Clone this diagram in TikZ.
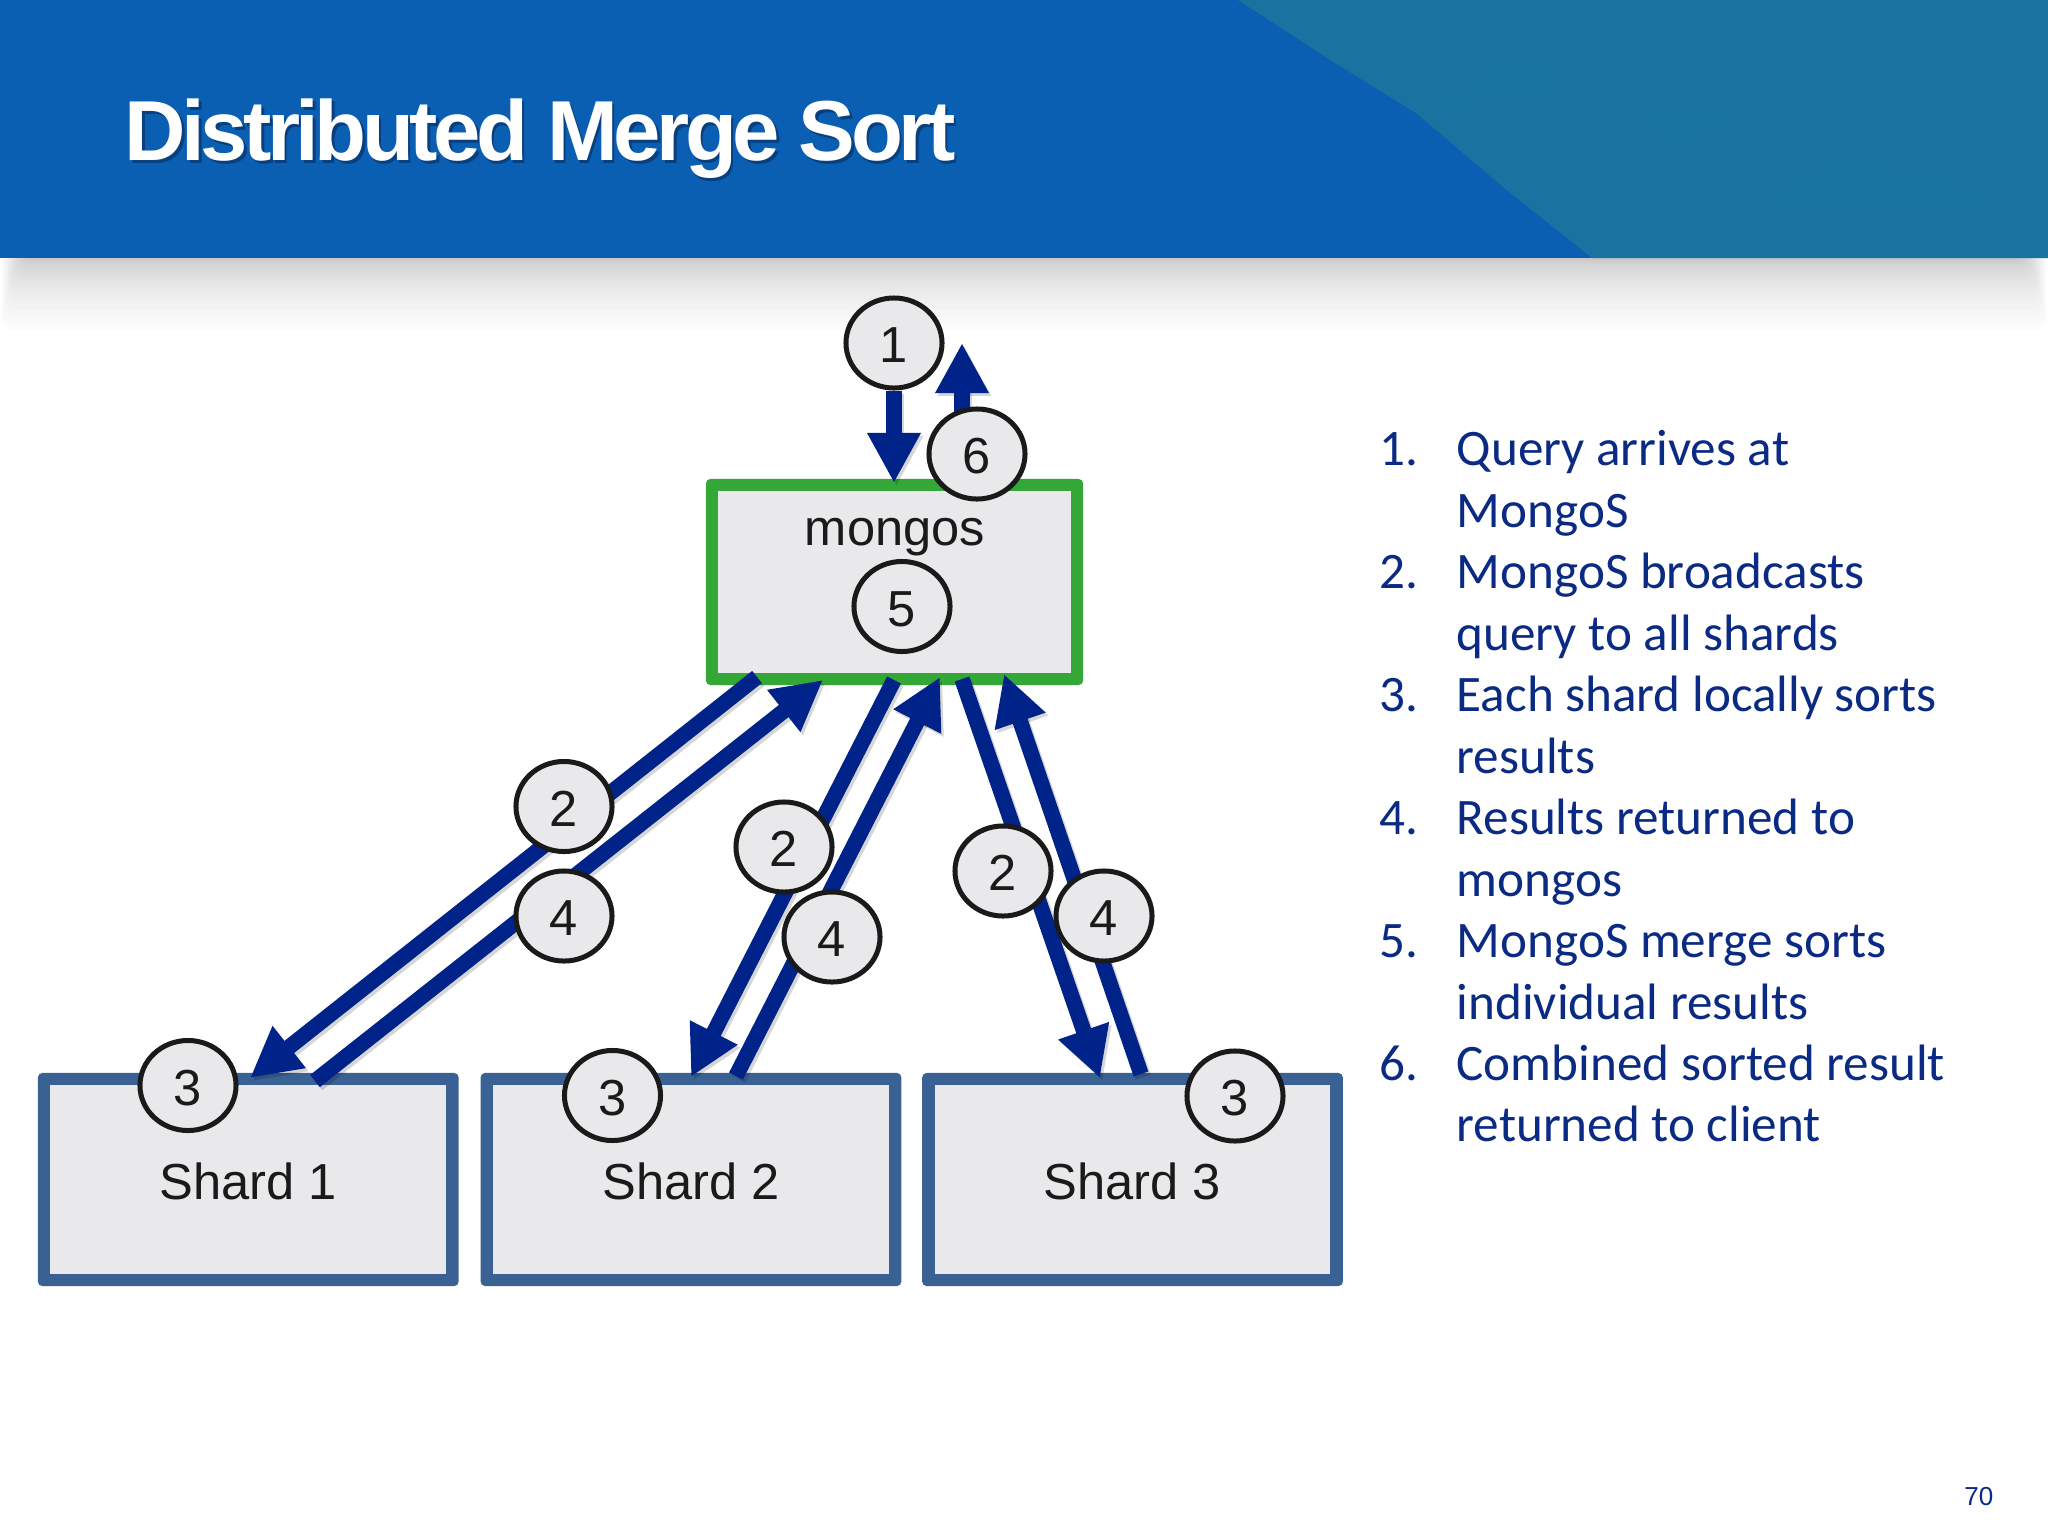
\documentclass[tikz,border=0pt]{standalone}
\usepackage{fontspec}
\setmainfont{Liberation Sans}
\newfontfamily\listfont{Carlito}
\newfontfamily\titlefont[LetterSpace=-5.35]{Liberation Sans Bold}
\usetikzlibrary{arrows.meta,shapes.geometric}
\definecolor{bannerblue}{HTML}{0B5FB2}
\definecolor{bannerteal}{HTML}{19729F}
\definecolor{tealpale}{HTML}{1A74A2}
\definecolor{titleshadow}{HTML}{083F7E}
\definecolor{arrowblue}{HTML}{00238A}
\definecolor{listblue}{HTML}{0A2A84}
\definecolor{boxfill}{HTML}{E9E9EB}
\definecolor{sharpedge}{HTML}{3A6193}
\definecolor{greenedge}{HTML}{34A836}
\definecolor{inkgrey}{HTML}{1A1A1A}
\pgfdeclarelayer{boxes}
\pgfdeclarelayer{flows}
\pgfsetlayers{boxes,flows,main}
\tikzset{
  diagramtext/.style={font=\fontsize{14.4pt}{17pt}\selectfont,text=inkgrey},
  digittext/.style={diagramtext,text height=.39cm,text depth=0pt},
  badge/.style={ellipse,draw=inkgrey,fill=boxfill,line width=.05cm,minimum width=.96cm,minimum height=.90cm,inner sep=0pt,digittext},
  framed/.style={rectangle,fill=#1,rounded corners=.045cm,inner sep=0pt,
    path picture={\fill[boxfill,sharp corners] ([shift={(.125cm,.125cm)}]path picture bounding box.south west) rectangle ([shift={(-.125cm,-.125cm)}]path picture bounding box.north east);}},
  sharpbox/.style={framed=sharpedge,minimum width=4.205cm,minimum height=2.13cm,digittext},
  mongobox/.style={framed=greenedge,minimum width=3.77cm,minimum height=2.06cm},
  listline/.style={anchor=base west,inner sep=0pt,text=listblue,font=\listfont\fontsize{14.55pt}{17pt}\selectfont},
  flow/.style={draw=arrowblue,line width=.155cm,-{Triangle[length=.5cm,width=.5cm,fill=arrowblue]}},
  flowshade/.style={draw=black,draw opacity=.16,line width=.155cm,-{Triangle[length=.5cm,width=.5cm,fill=black]},fill opacity=.16,transform canvas={shift={(.025cm,-.03cm)}}},
}
\newcommand{\flowline}[2]{%
  \begin{pgfonlayer}{flows}
    \draw[flowshade] (#1) -- (#2);
    \draw[flow] (#1) -- (#2);
  \end{pgfonlayer}}
\begin{document}
\begin{tikzpicture}[x=.01cm,y=-.01cm]
\useasboundingbox (0,0) rectangle (2048,1536);
\begin{pgfonlayer}{boxes}
  \fill[white] (0,0) rectangle (2048,1536);
  \foreach \i in {1,...,20}
    \fill[black,opacity=.013,rounded corners=.1cm] ({(21-\i)*1.3},250) rectangle ({2048-(21-\i)*1.3},{258+\i*\i*.18});
  \fill[bannerblue] (0,0) rectangle (2048,258);
  \fill[bannerteal] (1238,0) -- (1335,63) -- (1416,113) -- (1503,187) -- (1592,258) -- (2048,258) -- (2048,0) -- cycle;
  \fill[tealpale,rounded corners=.1cm] (1427,113) -- (1497,63) -- (1524,58) -- (1584,75) -- (1546,93) -- (1470,110) -- cycle;
  \fill[tealpale,rounded corners=.1cm] (1649,107) -- (1714,113) -- (1768,127) -- (1687,143) -- (1649,140) -- cycle;
  \fill[tealpale,rounded corners=.1cm] (1768,213) -- (1790,167) -- (1876,157) -- (2011,200) -- (1973,210) -- (1849,217) -- cycle;
\end{pgfonlayer}

\node[anchor=base west,inner sep=0pt,text=titleshadow,font=\titlefont\fontsize{24.2pt}{29pt}\selectfont] (titleshade) at (126.5,163) {Distributed Merge Sort};
\node[anchor=base west,inner sep=0pt,text=white,font=\titlefont\fontsize{24.2pt}{29pt}\selectfont] (title) at (124,160) {Distributed Merge Sort};

\begin{pgfonlayer}{boxes}
  \node[mongobox] (mongos) at (894.5,582) {};
  \node[sharpbox] (shard1) at (248.25,1179.5) {Shard 1};
  \node[sharpbox] (shard2) at (691,1179.5) {Shard 2};
  \node[sharpbox] (shard3) at (1132.5,1179.5) {Shard 3};
\end{pgfonlayer}
\node[diagramtext,anchor=base,inner sep=0pt] (mongoslabel) at (895,545) {mongos};

\node[badge] (c1) at (894,343) {1};
\node[badge] (c6) at (977,454) {6};
\node[badge] (c5) at (902,606.5) {5};
\node[badge] (c2a) at (564,806.5) {2};
\node[badge] (c4a) at (564,916) {4};
\node[badge] (c2b) at (784,847) {2};
\node[badge] (c4b) at (832,937) {4};
\node[badge] (c2c) at (1003,871) {2};
\node[badge] (c4c) at (1104,916) {4};
\node[badge] (c3a) at (188,1085.5) {3};
\node[badge] (c3b) at (612.5,1095.5) {3};
\node[badge] (c3c) at (1235,1096) {3};

\coordinate (inq) at (894,483);
\coordinate (outs) at (962,450);
\coordinate (oute) at (962,343);
\coordinate (ma) at (757,677);
\coordinate (sa) at (250,1078);
\coordinate (sat) at (315,1081);
\coordinate (mat) at (823,680);
\coordinate (mb) at (894,680);
\coordinate (sb) at (691,1077);
\coordinate (sbt) at (736,1076);
\coordinate (mbt) at (940,677);
\coordinate (mc) at (962,679);
\coordinate (sc) at (1100,1078);
\coordinate (sct) at (1141,1074);
\coordinate (mct) at (1004,674);

\flowline{c1}{inq}
\flowline{outs}{oute}
\flowline{ma}{sa}
\flowline{sat}{mat}
\flowline{mb}{sb}
\flowline{sbt}{mbt}
\flowline{mc}{sc}
\flowline{sct}{mct}

\node[listline] (n1) at (1379,465.8) {1.};
\node[listline] (l1a) at (1456,465.8) {Query arrives at};
\node[listline] (l1b) at (1456,527.3) {MongoS};
\node[listline] (n2) at (1379,588.8) {2.};
\node[listline] (l2a) at (1456,588.8) {MongoS broadcasts};
\node[listline] (l2b) at (1456,650.3) {query to all shards};
\node[listline] (n3) at (1379,711.8) {3.};
\node[listline] (l3a) at (1456,711.8) {Each shard locally sorts};
\node[listline] (l3b) at (1456,773.3) {results};
\node[listline] (n4) at (1379,834.8) {4.};
\node[listline] (l4a) at (1456,834.8) {Results returned to};
\node[listline] (l4b) at (1456,896.3) {mongos};
\node[listline] (n5) at (1379,957.8) {5.};
\node[listline] (l5a) at (1456,957.8) {MongoS merge sorts};
\node[listline] (l5b) at (1456,1019.3) {individual results};
\node[listline] (n6) at (1379,1080) {6.};
\node[listline] (l6a) at (1456,1080) {Combined sorted result};
\node[listline] (l6b) at (1456,1141.5) {returned to client};

\node[anchor=base east,inner sep=0pt,text=listblue,font=\fontsize{7.4pt}{9pt}\selectfont] (pagenum) at (1994,1505) {70};
\end{tikzpicture}
\end{document}
